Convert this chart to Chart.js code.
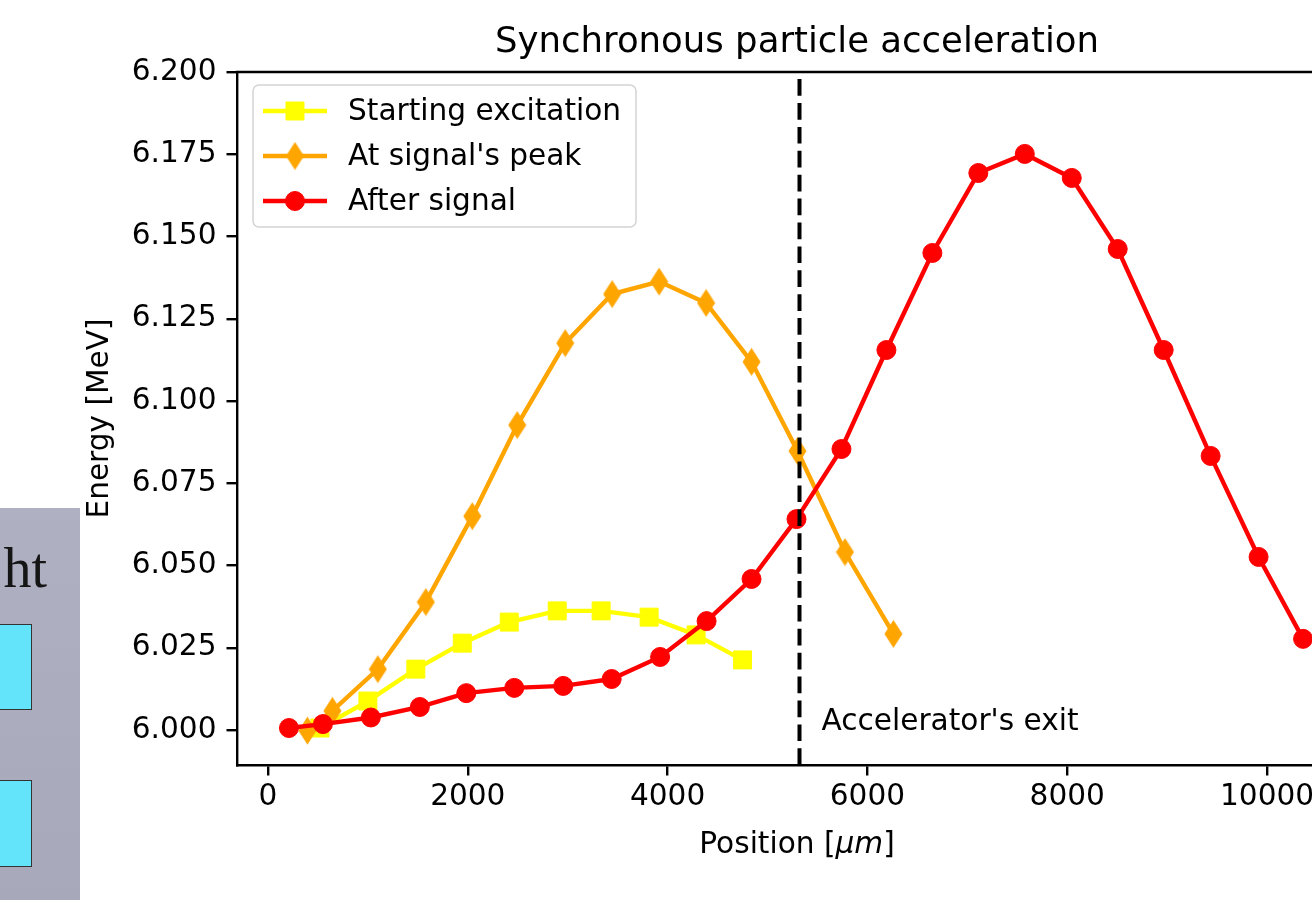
<!DOCTYPE html>
<html>
<head>
<meta charset="utf-8">
<title>Synchronous particle acceleration</title>
<script src="https://cdn.jsdelivr.net/npm/chart.js@4.4.1/dist/chart.umd.min.js"></script>
<style>
  html, body { margin: 0; padding: 0; background: #fff; overflow: hidden; width: 1312px; height: 900px; }
  #wrap { position: absolute; left: 0; top: 0; width: 1400px; height: 900px; }
  #slide { position: absolute; left: 0; top: 508px; width: 80px; height: 392px; overflow: hidden;
           background: linear-gradient(#afb1c2, #a7a9bb); }
  #slide .word { position: absolute; right: 33px; top: 32px; font: 56px/1 "Liberation Serif", "DejaVu Serif", serif; color: #151515; }
  #slide .box { position: absolute; left: -1px; width: 31px; background: #63e4fa; border: 1px solid #333; }
</style>
</head>
<body>
<div id="wrap"><canvas id="energyChart" width="1400" height="900"></canvas></div>
<div id="slide">
  <span class="word">ht</span>
  <div class="box" style="top:116px;height:84px"></div>
  <div class="box" style="top:272px;height:85px"></div>
</div>
<script>
const TITLE = "Synchronous particle acceleration";
const SERIES_NAMES = ["Starting excitation", "At signal's peak", "After signal"];

const startX = [520, 1000, 1480, 1945, 2415, 2895, 3335, 3815, 4285, 4750];
const startY = [6.0006, 6.0088, 6.0185, 6.0264, 6.0328, 6.0362, 6.0362, 6.0343, 6.0289, 6.0213];

const peakX = [395, 645, 1100, 1580, 2045, 2495, 2975, 3445, 3915, 4385, 4840, 5300, 5775, 6260];
const peakY = [5.9998, 6.0058, 6.0185, 6.0389, 6.0650, 6.0927, 6.1176, 6.1325, 6.1363, 6.1298,
               6.1119, 6.0848, 6.0541, 6.0292];

const afterX = [210, 550, 1030, 1520, 1985, 2465, 2955, 3440, 3925, 4390, 4840, 5290, 5740, 6190,
                6650, 7110, 7575, 8045, 8505, 8965, 9435, 9915, 10360];
const afterY = [6.0006, 6.0018, 6.0038, 6.0070, 6.0112, 6.0128, 6.0134, 6.0155, 6.0222, 6.0331,
                6.0459, 6.0641, 6.0854, 6.1155, 6.1450, 6.1693, 6.1751, 6.1678, 6.1462, 6.1155,
                6.0833, 6.0526, 6.0277];

const xTicks = [0, 2000, 4000, 6000, 8000, 10000];
const yTicks = [6.000, 6.025, 6.050, 6.075, 6.100, 6.125, 6.150, 6.175, 6.200];

const EXIT_X = 5320;
const EXIT_LABEL = "Accelerator's exit";
const EXIT_LABEL_POS = [5540, 6.000];

const FONT = "DejaVu Sans";
const FS = 29.6;

function toPoints(xs, ys) {
  return xs.map((x, i) => ({ x: x, y: ys[i] }));
}

function thinDiamond(color) {
  const c = document.createElement("canvas");
  c.width = 19;
  c.height = 29;
  const g = c.getContext("2d");
  g.fillStyle = color;
  g.beginPath();
  g.moveTo(9.5, 0.5);
  g.lineTo(18.5, 14.5);
  g.lineTo(9.5, 28.5);
  g.lineTo(0.5, 14.5);
  g.closePath();
  g.fill();
  return c;
}

function serie(label, data, color, style, radius, order) {
  return {
    label: label,
    data: data,
    borderColor: color,
    backgroundColor: color,
    borderWidth: 4.4,
    pointStyle: style,
    pointRadius: radius,
    pointBackgroundColor: color,
    pointBorderColor: color,
    pointBorderWidth: 1,
    tension: 0,
    order: order
  };
}

const extras = {
  id: "extras",
  afterDatasetsDraw(chart) {
    const ctx = chart.ctx;
    const a = chart.chartArea;
    const sx = chart.scales.x, sy = chart.scales.y;

    // dashed exit line
    const ex = sx.getPixelForValue(EXIT_X);
    ctx.save();
    ctx.strokeStyle = "#000";
    ctx.lineWidth = 4;
    ctx.setLineDash([16.7, 7.2]);
    ctx.beginPath();
    ctx.moveTo(ex, a.bottom);
    ctx.lineTo(ex, a.top);
    ctx.stroke();
    ctx.restore();

    // annotation
    ctx.save();
    ctx.fillStyle = "#000";
    ctx.font = FS + "px '" + FONT + "'";
    ctx.textAlign = "left";
    ctx.textBaseline = "alphabetic";
    ctx.fillText(EXIT_LABEL, sx.getPixelForValue(EXIT_LABEL_POS[0]), sy.getPixelForValue(EXIT_LABEL_POS[1]));
    ctx.restore();
  },
  afterDraw(chart) {
    const ctx = chart.ctx;
    const a = chart.chartArea;

    // top and right spines
    ctx.save();
    ctx.strokeStyle = "#000";
    ctx.lineWidth = 2.4;
    ctx.beginPath();
    ctx.moveTo(a.left - 1.2, a.top);
    ctx.lineTo(a.right, a.top);
    ctx.lineTo(a.right, a.bottom);
    ctx.stroke();

    // title
    ctx.fillStyle = "#000";
    ctx.font = "35.5px '" + FONT + "'";
    ctx.textAlign = "center";
    ctx.textBaseline = "alphabetic";
    ctx.fillText(TITLE, (a.left + a.right) / 2, a.top - 20);

    // x axis label with italic unit
    const parts = [["Position [", ""], ["\u03bcm", "italic "], ["]", ""]];
    let total = 0;
    parts.forEach(p => {
      ctx.font = p[1] + FS + "px '" + FONT + "'";
      total += ctx.measureText(p[0]).width;
    });
    let px = (a.left + a.right) / 2 - total / 2;
    ctx.textAlign = "left";
    parts.forEach(p => {
      ctx.font = p[1] + FS + "px '" + FONT + "'";
      ctx.fillText(p[0], px, a.bottom + 88);
      px += ctx.measureText(p[0]).width;
    });
    ctx.restore();

    drawLegend(chart);
  }
};

function drawLegend(chart) {
  const ctx = chart.ctx;
  const a = chart.chartArea;
  const x0 = a.left + 16, y0 = a.top + 13, w = 383, h = 142, r = 6;
  ctx.save();
  ctx.fillStyle = "rgba(255,255,255,0.8)";
  ctx.strokeStyle = "#d4d4d4";
  ctx.lineWidth = 1.5;
  ctx.beginPath();
  ctx.roundRect(x0, y0, w, h, r);
  ctx.fill();
  ctx.stroke();

  const legendOrder = [0, 1, 2];
  legendOrder.forEach((idx, row) => {
    const ds = chart.data.datasets[idx];
    const cy = y0 + 26 + row * 45;
    ctx.strokeStyle = ds.borderColor;
    ctx.lineWidth = ds.borderWidth;
    ctx.setLineDash([]);
    ctx.beginPath();
    ctx.moveTo(x0 + 10, cy);
    ctx.lineTo(x0 + 74, cy);
    ctx.stroke();
    ctx.fillStyle = ds.pointBackgroundColor;
    ctx.strokeStyle = ds.pointBorderColor;
    ctx.lineWidth = ds.pointBorderWidth;
    Chart.helpers.drawPoint(ctx, { pointStyle: ds.pointStyle, radius: ds.pointRadius, rotation: 0, borderWidth: ds.pointBorderWidth }, x0 + 42, cy);
    ctx.fillStyle = "#000";
    ctx.font = FS + "px '" + FONT + "'";
    ctx.textAlign = "left";
    ctx.textBaseline = "middle";
    ctx.fillText(ds.label, x0 + 95, cy + 1);
  });
  ctx.restore();
}

document.addEventListener("DOMContentLoaded", () => {
  Chart.defaults.font.family = FONT;
  Chart.defaults.color = "#000";

  const ctx = document.getElementById("energyChart").getContext("2d");
  new Chart(ctx, {
    type: "line",
    data: {
      datasets: [
        serie(SERIES_NAMES[0], toPoints(startX, startY), "#ffff00", "rect", 12.7, 3),
        serie(SERIES_NAMES[1], toPoints(peakX, peakY), "#ffa500", thinDiamond("#ffa500"), 9, 2),
        serie(SERIES_NAMES[2], toPoints(afterX, afterY), "#ff0000", "circle", 9.5, 1)
      ]
    },
    options: {
      responsive: false,
      animation: false,
      events: [],
      layout: { padding: { left: 0, right: 43, top: 72, bottom: 0 } },
      plugins: {
        legend: { display: false },
        tooltip: { enabled: false }
      },
      scales: {
        x: {
          type: "linear",
          min: -310,
          max: 10900,
          afterFit: s => { s.height = 135; },
          afterBuildTicks: s => { s.ticks = xTicks.map(v => ({ value: v })); },
          grid: { drawOnChartArea: false, drawTicks: true, tickLength: 10.5, color: "#000", lineWidth: 2.4 },
          border: { display: true, color: "#000", width: 2.4 },
          ticks: { autoSkip: false, maxRotation: 0, padding: 4, font: { size: FS }, callback: v => String(v) }
        },
        y: {
          type: "linear",
          min: 5.98936,
          max: 6.2,
          afterFit: s => { s.width = 237; },
          afterBuildTicks: s => { s.ticks = yTicks.map(v => ({ value: v })); },
          grid: { drawOnChartArea: false, drawTicks: true, tickLength: 10.5, color: "#000", lineWidth: 2.4 },
          border: { display: true, color: "#000", width: 2.4 },
          ticks: { autoSkip: false, padding: 10, font: { size: FS }, callback: v => Number(v).toFixed(3) },
          title: { display: true, text: "Energy [MeV]", font: { size: FS }, padding: { top: 82.7, bottom: 0 } }
        }
      }
    },
    plugins: [extras]
  });
});
</script>
</body>
</html>
